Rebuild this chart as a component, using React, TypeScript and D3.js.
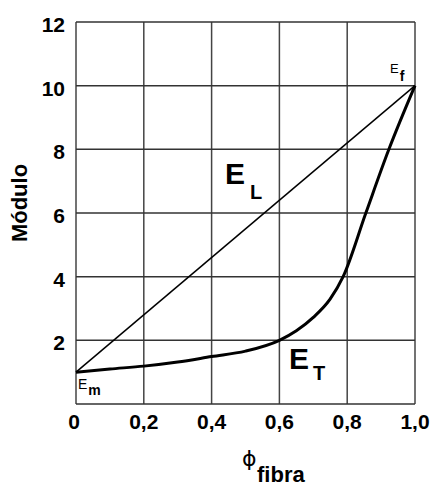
import { useEffect, useRef } from 'react';
import * as d3 from 'd3';

// volume fraction of fibre and modulus
const xTicks = [0, 0.2, 0.4, 0.6, 0.8, 1.0];
const yTicks = [0, 2, 4, 6, 8, 10, 12];
const eLongPhi = [0, 1];
const eLongVal = [1, 10];
const eTransPhi = [0, 0.1, 0.2, 0.3, 0.4, 0.5, 0.6, 0.65, 0.7, 0.75, 0.788, 0.855, 0.923, 1.0];
const eTransVal = [1.0, 1.1, 1.19, 1.32, 1.49, 1.66, 2.0, 2.3, 2.72, 3.3, 4.0, 6.0, 8.0, 10.0];

export default function App() {
  const svgRef = useRef<SVGSVGElement>(null);

  useEffect(() => {
    if (!svgRef.current) return;
    document.body.style.margin = '0';
    const svg = d3.select(svgRef.current);
    svg.selectAll('*').remove();

    const width = 435;
    const height = 486;
    const margin = { top: 22, right: 20, bottom: 82, left: 76 };
    const font = 'Liberation Sans, Arial, sans-serif';

    svg.attr('width', width).attr('height', height);

    const x = d3.scaleLinear().domain([0, 1]).range([margin.left, width - margin.right]);
    const y = d3.scaleLinear().domain([0, 12]).range([height - margin.bottom, margin.top]);

    // grid
    svg
      .append('g')
      .selectAll('line')
      .data(xTicks)
      .enter()
      .append('line')
      .attr('x1', (d) => x(d))
      .attr('x2', (d) => x(d))
      .attr('y1', y(0))
      .attr('y2', y(12))
      .attr('stroke', '#444')
      .attr('stroke-width', 1.5);

    svg
      .append('g')
      .selectAll('line')
      .data(yTicks)
      .enter()
      .append('line')
      .attr('x1', x(0))
      .attr('x2', x(1))
      .attr('y1', (d) => y(d))
      .attr('y2', (d) => y(d))
      .attr('stroke', '#333')
      .attr('stroke-width', 1.5);

    // tick labels
    svg
      .append('g')
      .selectAll('text')
      .data(yTicks.filter((d) => d > 0))
      .enter()
      .append('text')
      .attr('x', x(0) - 11)
      .attr('y', (d) => y(d) + 10)
      .attr('text-anchor', 'end')
      .style('font-family', font)
      .style('font-weight', 'bold')
      .style('font-size', '21px')
      .text((d) => String(d));

    svg
      .append('g')
      .selectAll('text')
      .data(xTicks)
      .enter()
      .append('text')
      .attr('x', (d) => x(d) - (d === 0 ? 2 : 0))
      .attr('y', y(0) + 25)
      .attr('text-anchor', 'middle')
      .style('font-family', font)
      .style('font-weight', 'bold')
      .style('font-size', '21px')
      .text((d) => (d === 0 ? '0' : d.toFixed(1).replace('.', ',')));

    // axis titles
    svg
      .append('text')
      .attr('transform', `translate(27,${y(6) - 10}) rotate(-90)`)
      .attr('text-anchor', 'middle')
      .style('font-family', font)
      .style('font-weight', 'bold')
      .style('font-size', '22px')
      .text('Módulo');

    const xt = svg.append('text').attr('x', 242).attr('y', 466);
    xt.append('tspan').style('font-family', 'DejaVu Sans, sans-serif').style('font-size', '22px').text('ϕ');
    xt.append('tspan')
      .attr('x', 257)
      .attr('y', 482)
      .style('font-family', font)
      .style('font-size', '22px')
      .style('font-weight', 'bold')
      .text('fibra');

    // curves
    const line = d3
      .line<number>()
      .x((d) => x(d))
      .y((_, i) => y(eLongVal[i]));

    svg
      .append('path')
      .datum(eLongPhi)
      .attr('fill', 'none')
      .attr('stroke', '#000')
      .attr('stroke-width', 1.5)
      .attr('d', line);

    const curve = d3
      .line<number>()
      .x((d) => x(d))
      .y((_, i) => y(eTransVal[i]))
      .curve(d3.curveMonotoneX);

    svg
      .append('path')
      .datum(eTransPhi)
      .attr('fill', 'none')
      .attr('stroke', '#000')
      .attr('stroke-width', 3)
      .attr('stroke-linejoin', 'round')
      .attr('d', curve);

    // labels
    const label = (
      px: number,
      py: number,
      size: number,
      sub: string,
      subSize: number,
      dx: number,
      dy: number,
      bold: boolean
    ) => {
      const t = svg
        .append('text')
        .attr('x', px)
        .attr('y', py)
        .style('font-family', font)
        .style('font-size', `${size}px`)
        .style('font-weight', bold ? 'bold' : 'normal');
      t.append('tspan').text('E');
      t.append('tspan')
        .attr('dx', dx)
        .attr('dy', dy)
        .style('font-size', `${subSize}px`)
        .style('font-weight', 'bold')
        .text(sub);
    };

    label(225, 184, 30, 'L', 20, 5, 15, true);
    label(289, 369, 30, 'T', 20, 4, 11, true);
    label(390, 73, 13, 'f', 14, 1, 8, false);
    label(78, 389, 14, 'm', 14, 1, 6, false);
  }, []);

  return <svg ref={svgRef} style={{ display: 'block' }} />;
}
